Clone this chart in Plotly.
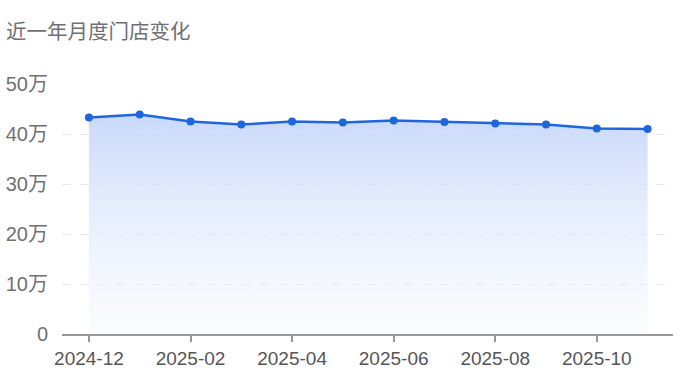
import plotly.graph_objects as go

months = ["2024-12", "2025-01", "2025-02", "2025-03", "2025-04", "2025-05",
          "2025-06", "2025-07", "2025-08", "2025-09", "2025-10", "2025-11"]
stores = [433000, 439000, 425000, 419000, 425000, 423000,
          427000, 424000, 421000, 419000, 411000, 410000]
tick_vals = [0, 100000, 200000, 300000, 400000, 500000]
tick_text = ["0", "10万", "20万", "30万", "40万", "50万"]
x_ticks = ["2024-12", "2025-02", "2025-04", "2025-06", "2025-08", "2025-10"]
title_text = "近一年月度门店变化"

fig = go.Figure()
fig.add_trace(go.Scatter(
    x=months, y=stores, mode="lines+markers",
    line=dict(color="#1f66dd", width=2.5),
    marker=dict(color="#1f66dd", size=8),
    fill="tozeroy",
    fillgradient=dict(type="vertical", start=0, stop=440000,
                      colorscale=[[0, "rgba(240,245,254,0.3)"], [1, "rgba(196,213,250,0.9)"]]),
    hoverinfo="skip",
))

num_font = "Liberation Sans, Arial, Noto Sans CJK SC, sans-serif"
cjk_font = "Noto Sans CJK SC, sans-serif"
fig.update_layout(
    width=683, height=377,
    margin=dict(l=62, r=10, t=84, b=43),
    paper_bgcolor="white", plot_bgcolor="white",
    showlegend=False,
    font=dict(family=num_font, color="#6b6b70", size=18),
    annotations=[dict(text=title_text, x=0, y=1, xref="paper", yref="paper",
                      xanchor="left", yanchor="middle", showarrow=False,
                      font=dict(size=20.5, color="#707074", family=cjk_font),
                      xshift=-58, yshift=54)],
)
fig.update_xaxes(
    type="category", range=[-0.53, 11.5], automargin=False,
    tickvals=x_ticks, ticktext=x_ticks,
    showgrid=False, showline=True, linecolor="#999999", linewidth=2,
    ticks="outside", ticklen=6, tickcolor="#999999", tickwidth=1.5,
    tickfont=dict(size=19, color="#555558", family=num_font),
)
fig.update_yaxes(
    range=[0, 500000], tickvals=tick_vals, ticktext=tick_text, automargin=False,
    showgrid=True, gridcolor="#e6e8ee", griddash="dash", gridwidth=1,
    zeroline=False, showline=False, ticks="", ticklabelstandoff=13,
    tickfont=dict(size=20, color="#707074", family=num_font),
)
fig.write_html("out.html")
